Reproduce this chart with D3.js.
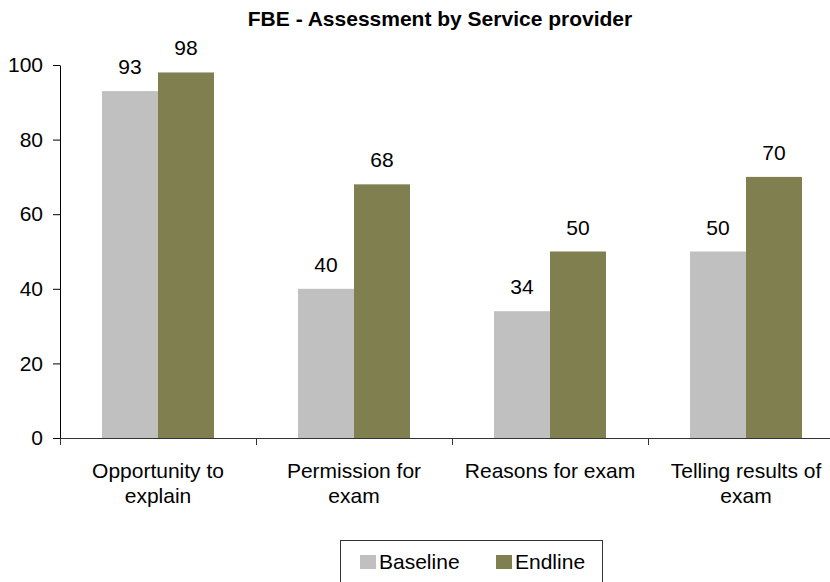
<!DOCTYPE html>
<html>
<head>
<meta charset="utf-8">
<script src="https://cdn.jsdelivr.net/npm/d3@7/dist/d3.min.js"></script>
<style>
  html, body { margin: 0; padding: 0; background: #fff; }
  svg { display: block; font-family: Arial, "Liberation Sans", sans-serif; }
</style>
</head>
<body>
<svg id="chart" width="830" height="582"></svg>
<script>
// Chart data
const categories = [
  ["Opportunity to", "explain"],
  ["Permission for", "exam"],
  ["Reasons for exam"],
  ["Telling results of", "exam"]
];
const seriesNames = ["Baseline", "Endline"];
const baseline = [93, 40, 34, 50];
const endline = [98, 68, 50, 70];
const yTicks = [0, 20, 40, 60, 80, 100];
const colors = ["#c0c0c0", "#7f7f4f"];

const FONT = 21;
const svg = d3.select("#chart");
const plot = { left: 60, right: 844, top: 65, bottom: 438 };

const catKeys = categories.map((c, i) => i);
const x = d3.scaleBand()
  .domain(catKeys)
  .range([plot.left, plot.right])
  .paddingInner(0.4286)
  .paddingOuter(0.2143);
const xs = d3.scaleBand()
  .domain(seriesNames)
  .range([0, x.bandwidth()]);
const y = d3.scaleLinear().domain([0, 100]).range([plot.bottom, plot.top]);

const values = [baseline, endline];

// Bars
const groups = svg.append("g").selectAll("g")
  .data(catKeys).join("g")
  .attr("transform", i => `translate(${x(i)},0)`);

groups.selectAll("rect")
  .data(i => seriesNames.map((s, k) => ({ s, k, v: values[k][i] })))
  .join("rect")
  .attr("x", d => xs(d.s))
  .attr("y", d => y(d.v))
  .attr("width", xs.bandwidth())
  .attr("height", d => y(0) - y(d.v))
  .attr("fill", d => colors[d.k]);

// Value labels
groups.selectAll("text")
  .data(i => seriesNames.map((s, k) => ({ s, k, v: values[k][i] })))
  .join("text")
  .attr("x", d => xs(d.s) + xs.bandwidth() / 2)
  .attr("y", d => y(d.v) - 17)
  .attr("text-anchor", "middle")
  .attr("font-size", FONT)
  .attr("fill", "#000")
  .text(d => d.v);

// Y axis
const yAxis = svg.append("g")
  .attr("transform", `translate(${plot.left},0)`)
  .call(d3.axisLeft(y).tickValues(yTicks).tickSize(7).tickPadding(10).tickSizeOuter(0));
yAxis.select(".domain").attr("stroke", "#000");
yAxis.selectAll(".tick line").attr("stroke", "#000");
yAxis.selectAll(".tick text")
  .attr("font-size", FONT)
  .attr("font-family", "Arial, 'Liberation Sans', sans-serif")
  .attr("fill", "#000");

// X axis line with ticks at category boundaries
const bounds = d3.scaleLinear().domain([0, categories.length]).range([plot.left, plot.right]);
const xAxis = svg.append("g")
  .attr("transform", `translate(0,${plot.bottom})`)
  .call(d3.axisBottom(bounds).ticks(categories.length).tickSize(7).tickFormat("").tickSizeOuter(0));
xAxis.select(".domain").attr("stroke", "#333");
xAxis.selectAll(".tick line").attr("stroke", "#333");

// Category labels
const catLabels = svg.append("g").selectAll("text")
  .data(catKeys).join("text")
  .attr("x", i => x(i) + x.bandwidth() / 2)
  .attr("y", 478)
  .attr("text-anchor", "middle")
  .attr("font-size", FONT)
  .attr("fill", "#000");
catLabels.selectAll("tspan")
  .data(i => categories[i])
  .join("tspan")
  .attr("x", function () { return d3.select(this.parentNode).attr("x"); })
  .attr("dy", (d, j) => j === 0 ? 0 : 25)
  .text(d => d);

// Title
svg.append("text")
  .attr("x", 440)
  .attr("y", 26)
  .attr("text-anchor", "middle")
  .attr("font-size", 21)
  .attr("font-weight", "bold")
  .attr("fill", "#000")
  .text("FBE - Assessment by Service provider");

// Legend
const legend = svg.append("g").attr("transform", "translate(340,540)");
legend.append("rect")
  .attr("x", 0.5).attr("y", 0.5)
  .attr("width", 262).attr("height", 60)
  .attr("fill", "#fff")
  .attr("stroke", "#333");
const legendX = [20, 156];
const items = legend.selectAll("g.item")
  .data(seriesNames).join("g")
  .attr("class", "item")
  .attr("transform", (d, k) => `translate(${legendX[k]},0)`);
items.append("rect")
  .attr("x", 0).attr("y", 15)
  .attr("width", 16).attr("height", 14)
  .attr("fill", (d, k) => colors[k]);
items.append("text")
  .attr("x", 19).attr("y", 29)
  .attr("font-size", FONT)
  .attr("fill", "#000")
  .text(d => d);
</script>
</body>
</html>
